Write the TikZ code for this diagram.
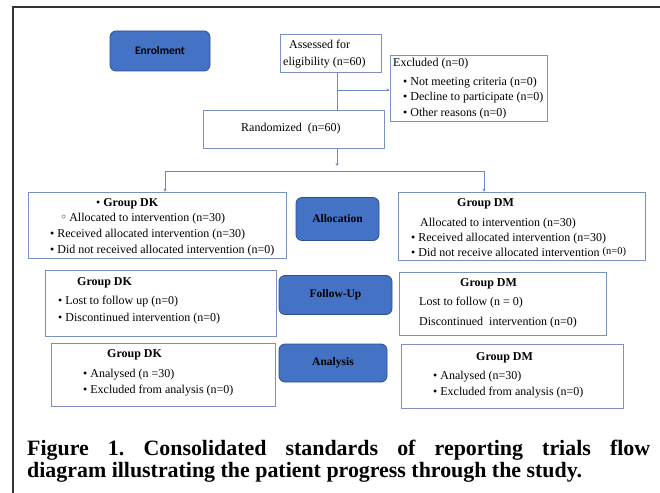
\documentclass[tikz,border=0pt]{standalone}
\usepackage{fontspec}
\setmainfont{Liberation Serif}
\newfontfamily\calib{Carlito}
\newfontfamily\dejavu{DejaVu Sans}
\usetikzlibrary{fit,arrows.meta}
\definecolor{boxc}{HTML}{7A90C2}
\definecolor{linec}{HTML}{6A88C8}
\definecolor{bluefill}{HTML}{4472C4}
\definecolor{bluedraw}{HTML}{2F528F}
\frenchspacing
\begin{document}
\begin{tikzpicture}[x=1pt,y=-1pt,
  box/.style={draw=boxc, line width=0.8pt, inner sep=0pt},
  stage/.style={draw=bluedraw, fill=bluefill, line width=0.8pt, rounded corners=6pt, inner sep=0pt, font=\fontsize{11.5}{13}\selectfont\bfseries},
  txt/.style={anchor=base west, inner sep=0pt, font=\fontsize{12}{14}\selectfont},
  head/.style={txt, font=\fontsize{12}{14}\selectfont\bfseries},
  conn/.style={draw=linec, line width=0.8pt},
  tip/.style={-{Stealth[length=3pt,width=3pt]}},
  captxt/.style={anchor=base west, inner sep=0pt, font=\fontsize{21.9}{22}\selectfont\bfseries}
]
\useasboundingbox (0,0) rectangle (660,492);
\fill[white] (0,0) rectangle (660,492);
\draw[line width=1.3pt, black!80] (13,493) -- (13,7) -- (661,7);

% boxes
\node[box, fit={(280,34) (381,72)}] (assess) {};
\node[box, fit={(390,55) (547,121)}] (excl) {};
\node[box, fit={(203,110) (384,148)}] (rand) {};
\node[box, fit={(28,192) (286,258)}] (dkA) {};
\node[box, fit={(398,192) (645,260)}] (dmA) {};
\node[box, fit={(45,270) (276,336)}] (dkF) {};
\node[box, fit={(399,272) (606,335)}] (dmF) {};
\node[box, fit={(51,343) (275,406)}] (dkN) {};
\node[box, fit={(401,344) (623,408)}] (dmN) {};

% stage labels
\node[stage, minimum width=100pt, minimum height=40pt, font=\calib\fontsize{11.5}{13}\selectfont\bfseries] (enrol) at (160,51) {Enrolment};
\node[stage, minimum width=83pt, minimum height=43pt] (alloc) at (337.5,219) {Allocation};
\node[stage, minimum width=113pt, minimum height=39pt] (follow) at (335.5,295) {Follow-Up};
\node[stage, minimum width=108pt, minimum height=38pt] (analysis) at (333,363) {Analysis};

% texts
\node[txt] (t1) at (289,49) {Assessed for};
\node[txt] (t2) at (283,66) {eligibility (n=60)};
\node[txt] (t3) at (393,67) {Excluded (n=0)};
\node[txt] (t4) at (403,86) {\textbullet\ Not meeting criteria (n=0)};
\node[txt] (t5) at (403,101) {\textbullet\ Decline to participate (n=0)};
\node[txt] (t6) at (403,116) {\textbullet\ Other reasons (n=0)};
\node[txt] (t7) at (241,131) {Randomized\ \ (n=60)};

\node[txt] (a1) at (96,206) {\textbullet\ \textbf{Group DK}};
\node[txt] (a2) at (60,221) {{\dejavu ◦}\,Allocated to intervention (n=30)};
\node[txt] (a3) at (50,237) {\textbullet\ Received allocated intervention (n=30)};
\node[txt] (a4) at (50,253) {\textbullet\ Did not received allocated intervention (n=0)};

\node[head] (b1) at (457,206) {Group DM};
\node[txt] (b2) at (420,226) {Allocated to intervention (n=30)};
\node[txt] (b3) at (411,241) {\textbullet\ Received allocated intervention (n=30)};
\node[txt] (b4) at (411,256) {\textbullet\ Did not receive allocated intervention \raisebox{2pt}{\fontsize{10.5}{12}\selectfont(n=0)}};

\node[head] (c1) at (77,285) {Group DK};
\node[txt] (c2) at (58,304) {\textbullet\ Lost to follow up (n=0)};
\node[txt] (c3) at (58,321) {\textbullet\ Discontinued intervention (n=0)};

\node[head] (d1) at (460,286) {Group DM};
\node[txt] (d2) at (419,305) {Lost to follow (n = 0)};
\node[txt] (d3) at (419,325) {Discontinued\ \ intervention (n=0)};

\node[head] (e1) at (107,357) {Group DK};
\node[txt] (e2) at (83,377) {\textbullet\ Analysed (n =30)};
\node[txt] (e3) at (83,393) {\textbullet\ Excluded from analysis (n=0)};

\node[head] (f1) at (476,360) {Group DM};
\node[txt] (f2) at (433,379) {\textbullet\ Analysed (n=30)};
\node[txt] (f3) at (433,395) {\textbullet\ Excluded from analysis (n=0)};

% connectors
\coordinate (jx) at (337,90);
\draw[conn] (jx |- assess.south) -- (jx |- rand.north);
\draw[conn,tip] (jx) -- (jx -| excl.west);
\coordinate (r1) at (337,166);
\draw[conn,tip] (r1 |- rand.south) -- (r1);
\coordinate (busL) at (165,171);
\coordinate (busR) at (484,171);
\draw[conn] (busL) -- (busR);
\draw[conn,tip] (busL) -- (busL |- dkA.north);
\draw[conn,tip] (busR) -- (busR |- dmA.north);

% caption
\node[captxt] (cap1) at (27,455) {\makebox[623pt][s]{Figure 1. Consolidated standards of reporting trials flow}};
\node[captxt] (cap2) at (27,477) {diagram illustrating the patient progress through the study.};
\end{tikzpicture}
\end{document}
